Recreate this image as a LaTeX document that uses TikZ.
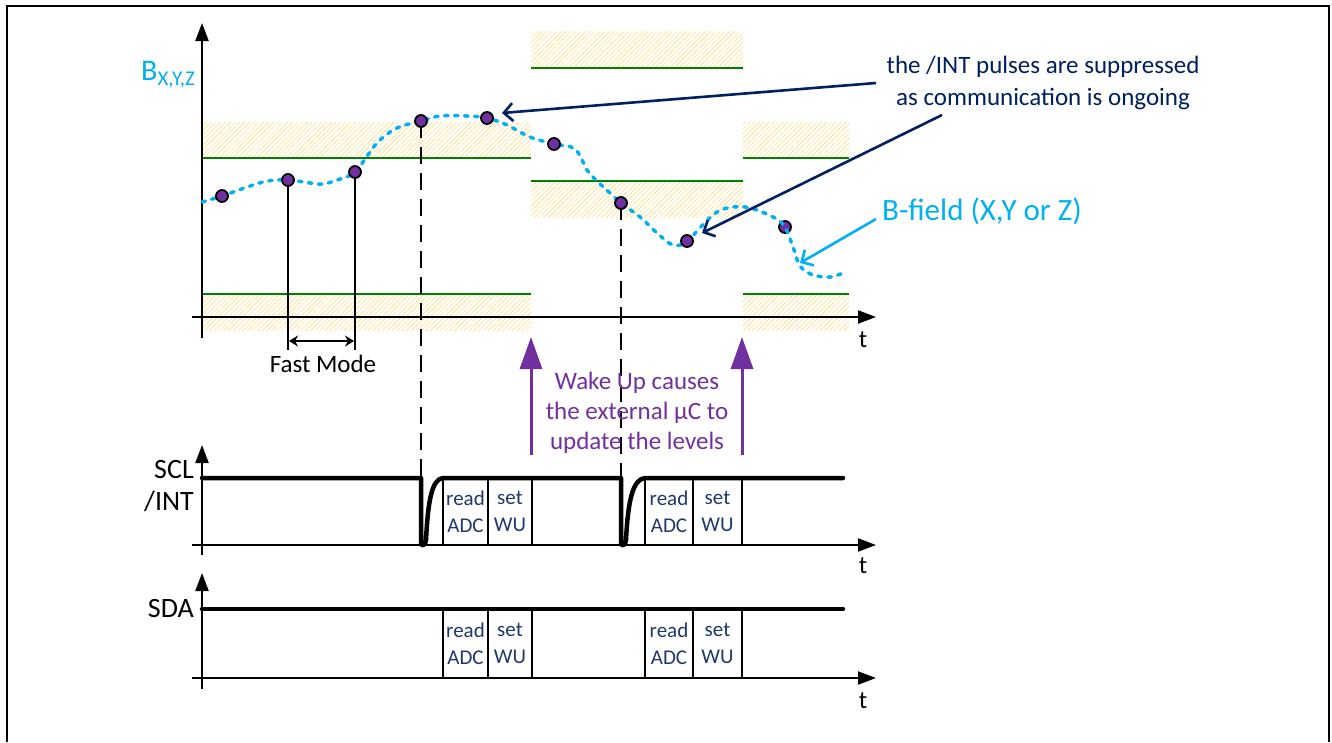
\documentclass[tikz,border=0pt]{standalone}
\usepackage{fontspec}
\setmainfont{Carlito}
\usetikzlibrary{arrows.meta,patterns.meta}
\definecolor{cyanB}{RGB}{0,176,240}
\definecolor{navy}{RGB}{0,32,96}
\definecolor{boxtxt}{RGB}{31,56,110}
\definecolor{purp}{RGB}{112,48,160}
\definecolor{grn}{RGB}{0,128,0}
\definecolor{hatchc}{RGB}{255,212,100}
\begin{document}
\begin{tikzpicture}[x=1pt,y=-1pt,
  axis/.style={black,line width=2.2pt,-{Triangle[length=18pt,width=13pt]}},
  band/.style={pattern={Lines[angle=45,distance=3.4pt,line width=0.45pt]},pattern color=hatchc},
  lvl/.style={grn,line width=2.2pt},
  dotp/.style={circle,fill=purp,draw=black,line width=1.8pt,inner sep=0pt,minimum size=12pt},
  curve/.style={cyanB,line width=3.5pt,line cap=round,dash pattern=on 3.5pt off 6.5pt},
  vdash/.style={black,line width=2.8pt,dash pattern=on 17pt off 9pt},
  sig/.style={black,line width=4.5pt,line cap=round,line join=round},
  cbox/.style={draw=black,line width=2pt,align=center,text=boxtxt,font=\fontsize{21}{27}\selectfont,inner sep=0pt},
  ann/.style={navy,line width=2.6pt,-{Straight Barb[length=9pt,width=18pt]}},
  tlab/.style={font=\fontsize{25}{27}\selectfont},
  slab/.style={font=\fontsize{28}{30}\selectfont,anchor=base east,inner sep=0pt},
  wake/.style={purp,line width=3pt,-{Triangle[length=32pt,width=22pt]}}
]
\useasboundingbox (0,0) rectangle (1332,742);
% frame
\draw[black,line width=1.6pt] (7,742) -- (7,6) -- (1329,6) -- (1329,742);

% hatched bands
\fill[band] (202,122) rectangle (531,158);
\fill[band] (202,294) rectangle (531,330);
\fill[band] (531,31) rectangle (743,68);
\fill[band] (531,181) rectangle (743,217);
\fill[band] (743,122) rectangle (849,158);
\fill[band] (743,294) rectangle (849,330);
\draw[lvl] (202,158) -- (531,158);
\draw[lvl] (202,294) -- (531,294);
\draw[lvl] (531,68) -- (743,68);
\draw[lvl] (531,181) -- (743,181);
\draw[lvl] (743,158) -- (849,158);
\draw[lvl] (743,294) -- (849,294);

% top axes
\coordinate (yb1) at (202,338); \coordinate (yt1) at (202,23);
\coordinate (xb1) at (192,317); \coordinate (xt1) at (876,317);
\draw[axis] (yb1) -- (yt1);
\draw[axis] (xb1) -- (xt1);
\node[tlab] (t1) at (863,340) {t};
\node[cyanB,anchor=base west,inner sep=0pt] (blab) at (141,80)
  {\fontsize{30}{32}\selectfont B\raisebox{-5pt}{\fontsize{21}{22}\selectfont X,Y,Z}};

% sample points
\coordinate (d1) at (222,196);
\coordinate (d2) at (288,180);
\coordinate (d3) at (355,172);
\coordinate (d4) at (421,121);
\coordinate (d5) at (487,118);
\coordinate (d6) at (554,144);
\coordinate (d7) at (621,203);
\coordinate (d8) at (687,241);
\coordinate (d9) at (785,227);

% fast mode
\coordinate (f2) at (288,350); \coordinate (f3) at (355,350);
\draw[black,line width=2pt] (d2) -- (f2);
\draw[black,line width=2pt] (d3) -- (f3);
\coordinate (fa) at (289,341); \coordinate (fb) at (354,341);
\draw[black,line width=2pt,{Stealth[length=9pt,width=11pt]}-{Stealth[length=9pt,width=11pt]}] (fa) -- (fb);
\node[tlab] (fm) at (323,364) {Fast Mode};

% dashed verticals
\coordinate (v1) at (421,478); \coordinate (v2) at (621,478);
\draw[vdash] (d4) -- (v1);
\draw[vdash] (d7) -- (v2);

\node[dotp] (p9) at (d9) {};
% B-field curve
\draw[curve] plot[smooth,tension=0.55] coordinates {
 (202,202) (222,196) (263,182) (288,180) (310,183) (323,184) (337,180) (355,172)
 (377,143) (397,128) (421,121) (440,116) (467,116) (487,118) (507,125) (530,137) (554,144)
 (575,149) (587,170) (597,181) (610,193) (621,203) (640,217) (657,233) (673,245) (687,241)
 (717,212) (745,207) (773,217) (785,227) (793,247) (800,266) (813,275) (830,277) (843,273)};
\foreach \p in {1,...,8} {\node[dotp] (p\p) at (d\p) {};}

% annotation
\node[navy,align=center,font=\fontsize{25}{32}\selectfont] (annt) at (1043,83)
  {the /INT pulses are suppressed\\as communication is ongoing};
\coordinate (a1s) at (876,83); \coordinate (a1e) at (502,113);
\coordinate (a2s) at (942,115); \coordinate (a2e) at (702,233);
\draw[ann] (a1s) -- (a1e);
\draw[ann] (a2s) -- (a2e);

\node[cyanB,anchor=base west,inner sep=0pt,font=\fontsize{31}{33}\selectfont] (bf) at (882,220) {B-field (X,Y or Z)};
\coordinate (bs) at (876,219); \coordinate (be) at (800,263);
\draw[cyanB,line width=2.6pt,-{Straight Barb[length=9pt,width=18pt]}] (bs) -- (be);

% wake up arrows
\coordinate (w1b) at (531,455); \coordinate (w1t) at (531,337);
\coordinate (w2b) at (742,455); \coordinate (w2t) at (742,337);
\draw[wake] (w1b) -- (w1t);
\draw[wake] (w2b) -- (w2t);
\node[purp,align=center,font=\fontsize{25}{30}\selectfont] (wk) at (637,413)
  {Wake Up causes\\the external µC to\\update the levels};

% SCL / INT
\coordinate (yb2) at (202,555); \coordinate (yt2) at (202,445);
\coordinate (xb2) at (192,545); \coordinate (xt2) at (876,545);
\draw[axis] (yb2) -- (yt2);
\draw[axis] (xb2) -- (xt2);
\node[tlab] (t2) at (863,566) {t};
\node[slab] (scl) at (194,478) {SCL};
\node[slab] (int) at (194,510) {/INT};
\node[cbox,minimum width=45pt,minimum height=67pt] (r1) at (465.5,511.5) {read\\ADC};
\node[cbox,minimum width=44pt,minimum height=67pt] (s1) at (510,511.5) {set\\WU};
\node[cbox,minimum width=48pt,minimum height=67pt] (r2) at (669,511.5) {read\\ADC};
\node[cbox,minimum width=49pt,minimum height=67pt] (s2) at (717.5,511.5) {set\\WU};
\coordinate (c0) at (202,478);
\coordinate (c1) at (421,478); \coordinate (c1b) at (421,543);
\coordinate (c2) at (443,478);
\coordinate (c3) at (621,478); \coordinate (c3b) at (621,543);
\coordinate (c4) at (645,478);
\coordinate (c5) at (843,478);
\draw[sig] (c0) -- (c1) -- (c1b) .. controls (421,546) and (425,547) .. (426,540)
  .. controls (428,500) and (432,479) .. (c2) -- (c3) -- (c3b)
  .. controls (621,546) and (625,547) .. (626,540)
  .. controls (628,500) and (633,479) .. (c4) -- (c5);

% SDA
\coordinate (yb3) at (202,689); \coordinate (yt3) at (202,573);
\coordinate (xb3) at (192,678); \coordinate (xt3) at (876,678);
\draw[axis] (yb3) -- (yt3);
\draw[axis] (xb3) -- (xt3);
\node[tlab] (t3) at (863,701) {t};
\node[slab] (sda) at (194,617) {SDA};
\node[cbox,minimum width=45pt,minimum height=69pt] (r3) at (465.5,643.5) {read\\ADC};
\node[cbox,minimum width=44pt,minimum height=69pt] (s3) at (510,643.5) {set\\WU};
\node[cbox,minimum width=48pt,minimum height=69pt] (r4) at (669,643.5) {read\\ADC};
\node[cbox,minimum width=49pt,minimum height=69pt] (s4) at (717.5,643.5) {set\\WU};
\coordinate (e0) at (202,609); \coordinate (e1) at (843,609);
\draw[sig] (e0) -- (e1);
\end{tikzpicture}
\end{document}
